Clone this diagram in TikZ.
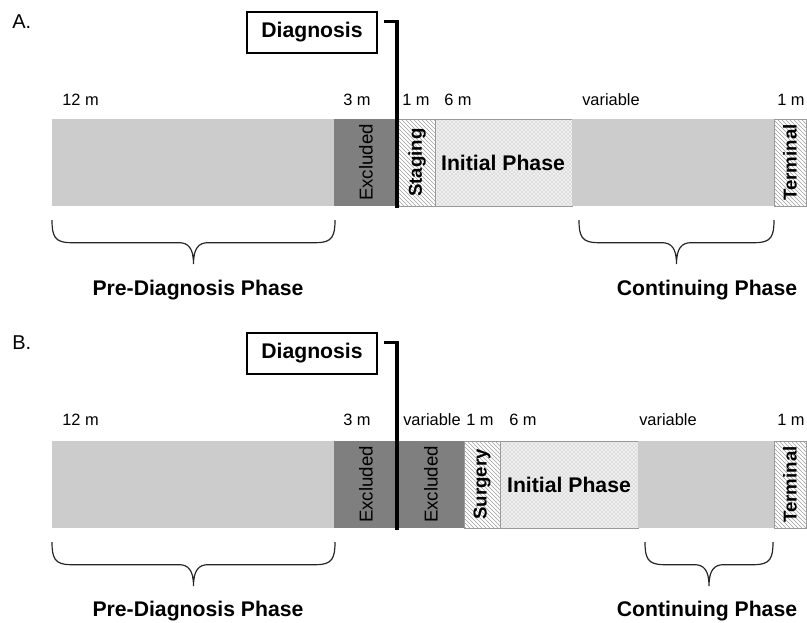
\documentclass[tikz,border=0pt]{standalone}
\usepackage{fontspec}
\setmainfont{Liberation Sans}
\usetikzlibrary{patterns,calc}
\definecolor{lightbar}{HTML}{CCCCCC}
\definecolor{darkbar}{HTML}{7F7F7F}

\begin{document}
\begin{tikzpicture}[x=0.75pt,y=-0.75pt,
  dur/.style={font=\fontsize{12.3}{14}\selectfont,anchor=west,inner sep=0pt},
  phase/.style={font=\fontsize{15.9}{18}\selectfont\bfseries,inner sep=0pt},
  vlabel/.style={font=\fontsize{14}{16}\selectfont,rotate=90,inner sep=0pt},
  vbold/.style={font=\fontsize{14}{16}\selectfont\bfseries,rotate=90,inner sep=0pt},
  hatched/.style={draw=gray!80,line width=0.6pt,fill=white,postaction={pattern=north west lines,pattern color=gray!75}},
  stipple/.style={draw=gray!80,line width=0.6pt,fill=gray!12,postaction={pattern=crosshatch dots,pattern color=gray!75}},
  diagbox/.style={draw,line width=1.5pt,minimum width=97pt,minimum height=30.5pt,font=\fontsize{15.9}{18}\selectfont\bfseries},
  timeline/.style={line width=2.3pt},
  curly/.style={line width=0.9pt,draw=black!85,to path={let \p1=(\tikztostart),\p2=(\tikztotarget),\n1={0.5*(\x1+\x2)} in
    .. controls (\x1,\y1-12pt) and (\x1+2pt,\y1-17pt) .. (\x1+14pt,\y1-17pt)
    -- (\n1-11pt,\y1-17pt) .. controls (\n1-4pt,\y1-17pt) and (\n1,\y1-21pt) .. (\n1,\y1-33pt)
    .. controls (\n1,\y1-21pt) and (\n1+4pt,\y1-17pt) .. (\n1+11pt,\y1-17pt)
    -- (\x2-14pt,\y2-17pt) .. controls (\x2-2pt,\y2-17pt) and (\x2,\y2-12pt) .. (\x2,\y2)}}]
\useasboundingbox (0,0) rectangle (807,622);

% panel A
\node[anchor=west,inner sep=0pt,font=\fontsize{15}{18}\selectfont] (labA) at (12,22) {A.};
\node[diagbox] (diagA) at (312,32.5) {Diagnosis};

\fill[lightbar] (52,119) rectangle (334,206);
\fill[darkbar] (334,119) rectangle (398,206);
\draw[hatched] (398,119) rectangle (435,206);
\draw[stipple] (435,119) rectangle (572,206);
\fill[lightbar] (572,119) rectangle (774,206);
\draw[hatched] (774,119) rectangle (806,206);

\node[vlabel] (exclA) at (366,162.5) {Excluded};
\node[vbold] (stagA) at (417,162.5) {Staging};
\node[phase] (initA) at (503,162.5) {Initial Phase};
\node[vbold] (termA) at (790,162.5) {Terminal};

\node[dur] (m12A) at (62,100) {12 m};
\node[dur] (m3A) at (343,100) {3 m};
\node[dur] (m1A) at (402,100) {1 m};
\node[dur] (m6A) at (444,100) {6 m};
\node[dur] (varA) at (582,100) {variable};
\node[dur] (mtA) at (777,100) {1 m};

\coordinate (cutA) at (397,208);
\draw[timeline] ([xshift=5pt,yshift=-8pt]diagA.north east) -| (cutA);

\coordinate (preA1) at (52,220);
\coordinate (preA2) at (335,220);
\coordinate (conA1) at (579,220);
\coordinate (conA2) at (774,220);
\draw[curly] (preA1) to (preA2);
\draw[curly] (conA1) to (conA2);
\node[phase] (preA) at (198,290) {Pre-Diagnosis Phase};
\node[phase] (conA) at (707,290) {Continuing Phase};

% panel B
\node[anchor=west,inner sep=0pt,font=\fontsize{15}{18}\selectfont] (labB) at (12,343) {B.};
\node[diagbox] (diagB) at (312,353.5) {Diagnosis};

\fill[lightbar] (52,441) rectangle (334,528);
\fill[darkbar] (334,441) rectangle (464,528);
\draw[hatched] (464,441) rectangle (500,528);
\draw[stipple] (500,441) rectangle (638,528);
\fill[lightbar] (638,441) rectangle (774,528);
\draw[hatched] (774,441) rectangle (806,528);

\node[vlabel] (exclB1) at (366,484.5) {Excluded};
\node[vlabel] (exclB2) at (431,484.5) {Excluded};
\node[vbold] (surgB) at (482,484.5) {Surgery};
\node[phase] (initB) at (569,484.5) {Initial Phase};
\node[vbold] (termB) at (790,484.5) {Terminal};

\node[dur] (m12B) at (62,420) {12 m};
\node[dur] (m3B) at (343,420) {3 m};
\node[dur] (varB1) at (403,420) {variable};
\node[dur] (m1B) at (466,420) {1 m};
\node[dur] (m6B) at (509,420) {6 m};
\node[dur] (varB2) at (639,420) {variable};
\node[dur] (mtB) at (777,420) {1 m};

\coordinate (cutB) at (397,530);
\draw[timeline] ([xshift=5pt,yshift=-8pt]diagB.north east) -| (cutB);

\coordinate (preB1) at (52,542);
\coordinate (preB2) at (335,542);
\coordinate (conB1) at (645,542);
\coordinate (conB2) at (773,542);
\draw[curly] (preB1) to (preB2);
\draw[curly] (conB1) to (conB2);
\node[phase] (preB) at (198,611) {Pre-Diagnosis Phase};
\node[phase] (conB) at (707,611) {Continuing Phase};
\end{tikzpicture}
\end{document}
